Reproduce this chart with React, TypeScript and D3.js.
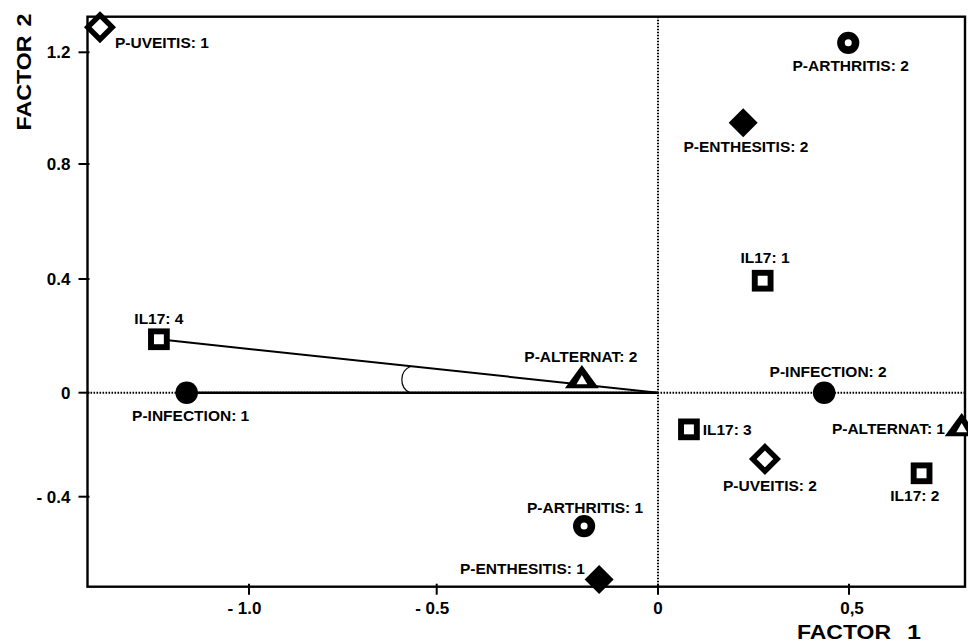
import React from "react";
import * as d3 from "d3";

// ---- data ----
const pointNames = [
  "IL17: 1", "IL17: 2", "IL17: 3", "IL17: 4",
  "P-INFECTION: 1", "P-INFECTION: 2",
  "P-ALTERNAT: 1", "P-ALTERNAT: 2",
  "P-ARTHRITIS: 1", "P-ARTHRITIS: 2",
  "P-ENTHESITIS: 1", "P-ENTHESITIS: 2",
  "P-UVEITIS: 1", "P-UVEITIS: 2",
];
const factor1 = [0.274, 0.69, 0.081, -1.24, -1.166, 0.435, 0.795, -0.172, -0.167, 0.498, -0.133, 0.223, -1.397, 0.28];
const factor2 = [0.394, -0.31, -0.141, 0.188, 0, 0, -0.136, 0.045, -0.513, 1.234, -0.718, 0.948, 1.29, -0.255];
const markerKinds = [
  "openSquare", "openSquare", "openSquare", "openSquare",
  "filledCircle", "filledCircle",
  "openTriangle", "openTriangle",
  "openCircle", "openCircle",
  "filledDiamond", "filledDiamond",
  "openDiamond", "openDiamond",
];

const xTicks = [-1.0, -0.5, 0, 0.5];
const xTickLabels = ["- 1.0", "- 0.5", "0", "0,5"];
const yTicks = [1.2, 0.8, 0.4, 0, -0.4];
const yTickLabels = ["1.2", "0.8", "0.4", "0", "- 0.4"];

// vectors drawn from the origin (angle illustration)
const vectorA = "IL17: 4";
const vectorB = "P-INFECTION: 1";

// ---- layout (label placement relative to the marker) ----
const labelPlacement: Record<string, [number, number, string]> = {
  "P-UVEITIS: 1": [15, 15.4, "start"],
  "IL17: 4": [0, -21, "middle"],
  "P-INFECTION: 1": [4, 22.3, "middle"],
  "P-ALTERNAT: 2": [-1, -23.3, "middle"],
  "P-ARTHRITIS: 1": [1, -18.7, "middle"],
  "P-ENTHESITIS: 1": [-14.3, -11, "end"],
  "IL17: 3": [13.7, 0, "start"],
  "P-UVEITIS: 2": [5, 26, "middle"],
  "P-ALTERNAT: 1": [-16.7, 0, "end"],
  "IL17: 2": [-6.7, 21.7, "middle"],
  "P-INFECTION: 2": [4, -21, "middle"],
  "IL17: 1": [2.3, -23.4, "middle"],
  "P-ENTHESITIS: 2": [2.7, 24, "middle"],
  "P-ARTHRITIS: 2": [2.4, 22.3, "middle"],
};

const W = 968;
const H = 642;
const box = { left: 87.5, top: 16.7, right: 965, bottom: 586.7 };
const FONT = "'Liberation Sans', Arial, Helvetica, sans-serif";

const x = d3.scaleLinear().domain([-1, -0.5, 0, 0.5]).range([249, 436.7, 658, 849]);
const y = d3.scaleLinear().domain([1.2, 0.8, 0.4, 0, -0.4]).range([52.3, 164, 279, 392.7, 496.7]);

function Marker({ kind, cx, cy }: { kind: string; cx: number; cy: number }) {
  switch (kind) {
    case "openSquare":
      return <rect x={cx - 7.9} y={cy - 7.9} width={15.8} height={15.8} fill="#fff" stroke="#000" strokeWidth={5.9} />;
    case "filledCircle":
      return <circle cx={cx} cy={cy} r={11.3} fill="#000" />;
    case "openCircle":
      return <circle cx={cx} cy={cy} r={7.3} fill="#fff" stroke="#000" strokeWidth={7.6} />;
    case "filledDiamond": {
      const r = 14.5;
      return <path d={`M${cx},${cy - r}L${cx + r},${cy}L${cx},${cy + r}L${cx - r},${cy}Z`} fill="#000" />;
    }
    case "openDiamond": {
      const r = 12.2;
      return (
        <path
          d={`M${cx},${cy - r}L${cx + r},${cy}L${cx},${cy + r}L${cx - r},${cy}Z`}
          fill="#fff" stroke="#000" strokeWidth={5.4} strokeLinejoin="miter"
        />
      );
    }
    case "openTriangle":
      return (
        <g>
          <path d={`M${cx},${cy - 15}L${cx + 17},${cy + 8.3}L${cx - 17},${cy + 8.3}Z`} fill="#000" />
          <path d={`M${cx},${cy - 5}L${cx + 5.4},${cy + 4.3}L${cx - 5.4},${cy + 4.3}Z`} fill="#fff" />
        </g>
      );
    default:
      return null;
  }
}

export default function App() {
  const pts = pointNames.map((name, i) => ({
    name,
    px: x(factor1[i]),
    py: y(factor2[i]),
    kind: markerKinds[i],
  }));
  const ox = x(0);
  const oy = y(0);
  const a = pts.find((p) => p.name === vectorA)!;
  const b = pts.find((p) => p.name === vectorB)!;

  // small angle arc between the two vectors
  const t = 0.495;
  const ax = ox + t * (a.px - ox);
  const ay = oy + t * (a.py - oy);
  const bx = ax - 1;
  const by = oy;

  return (
    <svg
      width={W}
      height={H}
      style={{ position: "absolute", left: 0, top: 0, background: "#fff" }}
      fontFamily={FONT}
      fontWeight="bold"
    >
      <rect x={0} y={0} width={W} height={H} fill="#fff" />
      {/* zero reference lines */}
      <line x1={box.left} x2={box.right} y1={oy} y2={oy} stroke="#000" strokeWidth={2} strokeDasharray="1.6 1.4" />
      <line x1={ox} x2={ox} y1={box.top} y2={box.bottom} stroke="#000" strokeWidth={2} strokeDasharray="1.6 1.4" />

      {/* vectors */}
      <line x1={a.px} y1={a.py} x2={ox} y2={oy} stroke="#000" strokeWidth={2} />
      <line x1={b.px} y1={b.py} x2={ox} y2={oy} stroke="#000" strokeWidth={2.6} />
      <path d={`M${ax},${ay} A14.5,14.5 0 0 0 ${bx},${by}`} fill="none" stroke="#000" strokeWidth={1.2} />

      {/* frame */}
      <rect
        x={box.left}
        y={box.top}
        width={box.right - box.left}
        height={box.bottom - box.top}
        fill="none"
        stroke="#000"
        strokeWidth={2.4}
      />

      {/* y ticks */}
      {yTicks.map((v, i) => (
        <g key={"y" + i}>
          <line x1={box.left - 9} x2={box.left + 2} y1={y(v)} y2={y(v)} stroke="#000" strokeWidth={2} />
          <text x={70.5} y={y(v) + 6.1} textAnchor="end" fontSize={17}>
            {yTickLabels[i]}
          </text>
        </g>
      ))}

      {/* x ticks */}
      {xTicks.map((v, i) => (
        <g key={"x" + i}>
          <line x1={x(v)} x2={x(v)} y1={box.bottom - 3} y2={box.bottom + 8} stroke="#000" strokeWidth={2} />
          <text
            x={v < 0 ? x(v) + 12.5 : v === 0 ? x(v) : x(v) + 3}
            y={614.4}
            textAnchor={v < 0 ? "end" : "middle"}
            fontSize={17}
          >
            {xTickLabels[i]}
          </text>
        </g>
      ))}

      {/* axis titles */}
      <text x={797} y={638.8} fontSize={21} textLength={94} lengthAdjust="spacingAndGlyphs">FACTOR</text>
      <text x={907} y={638.8} fontSize={21} textLength={14} lengthAdjust="spacingAndGlyphs">1</text>
      <g transform="translate(31,130.5) rotate(-90)">
        <text x={0} y={0} fontSize={21} textLength={95} lengthAdjust="spacingAndGlyphs">FACTOR</text>
        <text x={104} y={0} fontSize={21} textLength={13} lengthAdjust="spacingAndGlyphs">2</text>
      </g>

      {/* markers */}
      {pts.map((p) => (
        <Marker key={p.name} kind={p.kind} cx={p.px} cy={p.py} />
      ))}

      {/* labels */}
      {pts.map((p) => {
        const [dx, dy, anchor] = labelPlacement[p.name];
        return (
          <text
            key={"l" + p.name}
            x={p.px + dx}
            y={p.py + dy + 5.5}
            textAnchor={anchor as any}
            fontSize={15.5}
          >
            {p.name}
          </text>
        );
      })}
    </svg>
  );
}
